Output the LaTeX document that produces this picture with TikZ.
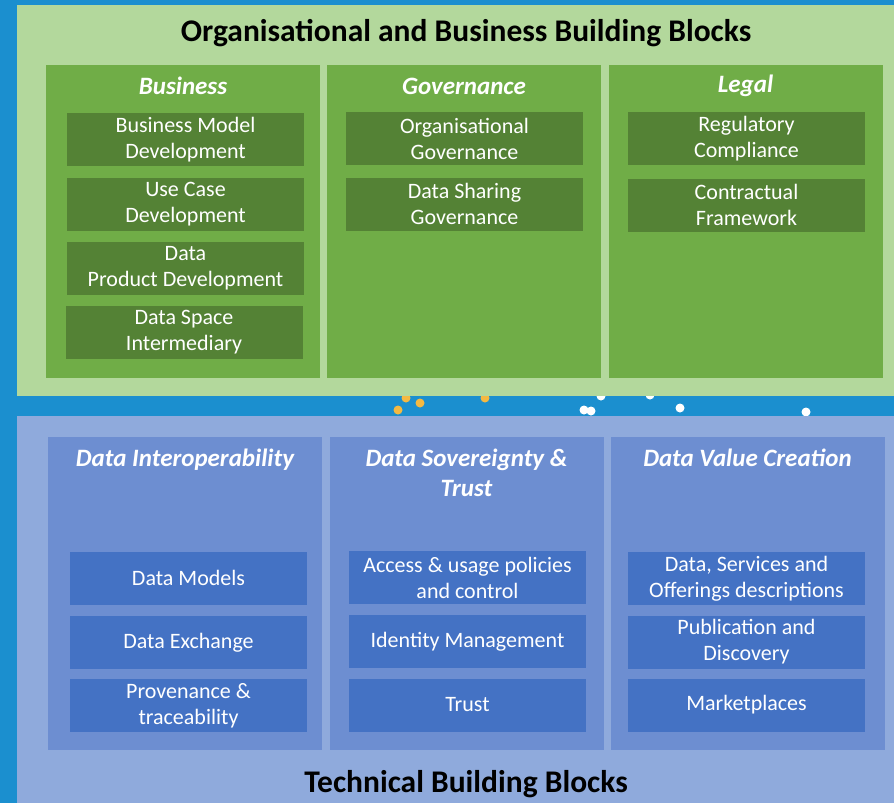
\documentclass[tikz,border=0pt]{standalone}
\usepackage{fontspec}
\setmainfont{Carlito}
\definecolor{bgblue}{HTML}{1B8FCF}
\definecolor{orgpanel}{HTML}{B3D89C}
\definecolor{orgcol}{HTML}{70AD47}
\definecolor{orgitem}{HTML}{548235}
\definecolor{techpanel}{HTML}{8FAADC}
\definecolor{techcol}{HTML}{6D8ED1}
\definecolor{techitem}{HTML}{4472C4}
\definecolor{dotorange}{HTML}{F4B942}

\begin{document}
\begin{tikzpicture}[x=1pt,y=-1pt,
	column node/.style={rectangle,fill=#1,minimum width=274pt,minimum height=313pt,inner sep=0pt},
	item node/.style={rectangle,fill=#1,minimum width=237pt,minimum height=53pt,inner sep=0pt,
		text=white,align=center,font=\fontsize{22}{26}\selectfont},
	head node/.style={text=white,align=center,font=\fontsize{25}{30}\selectfont\bfseries\itshape},
	title node/.style={text=black,font=\fontsize{31.5}{36}\selectfont\bfseries}
]

	\fill[bgblue] (0,0) rectangle (894,803);
	\useasboundingbox (0,0) rectangle (894,803);

	% dots peeking out between the two panels
	\foreach \p in {(398,410),(406,398),(420,403),(485,398)}
		\fill[dotorange] \p circle (4.5);
	\foreach \p in {(584,410),(591,411),(601,396),(650,395),(680,408),(806,412)}
		\fill[white] \p circle (4.5);

	\fill[orgpanel] (17,5) rectangle (894,396);
	\fill[techpanel] (17,416) rectangle (894,803);

	\node[title node] (orgtitle) at (466,33) {Organisational and Business Building Blocks};
	\node[title node] (techtitle) at (466,784) {Technical Building Blocks};

	% organisational and business columns
	\foreach \name/\x/\txt in {business/183/Business,governance/464/Governance,legal/745.5/Legal} {
		\node[column node=orgcol] (\name) at (\x,221.5) {};
		\node[head node] (\name-head) at (\x,86) {\txt};
	}
	\foreach \name/\x/\y/\txt in {
		bmd/185.5/139.5/{Business Model\\Development},
		ucd/185.5/204/{Use Case\\Development},
		dpd/185.5/268.5/{Data\\Product Development},
		dsi/184/332.5/{Data Space\\Intermediary},
		orggov/464.5/138.5/{Organisational\\Governance},
		dsgov/464.5/204/{Data Sharing\\Governance},
		regcomp/746.5/138.5/{Regulatory\\Compliance},
		contract/746.5/205/{Contractual\\Framework}}
		\node[item node=orgitem] (\name) at (\x,\y) {\txt};

	% technical columns
	\foreach \name/\x/\txt in {interop/185/{Data Interoperability},sovereignty/466.5/{Data Sovereignty \&\\Trust},value/747.5/{Data Value Creation}} {
		\node[column node=techcol] (\name) at (\x,593.5) {};
		\node[head node,anchor=north] (\name-head) at (\x,445) {\txt};
	}
	\foreach \name/\x/\y/\txt in {
		models/188.5/578/{Data Models},
		exchange/188.5/642.5/{Data Exchange},
		provenance/188.5/705.5/{Provenance \&\\traceability},
		policies/467.5/577.5/{Access \& usage policies\\and control},
		identity/467.5/641.5/{Identity Management},
		trust/467.5/705/{Trust},
		offerings/746.5/578.5/{Data, Services and\\Offerings descriptions},
		publication/746.5/642/{Publication and\\Discovery},
		market/746.5/705/{Marketplaces}}
		\node[item node=techitem] (\name) at (\x,\y) {\txt};
\end{tikzpicture}
\end{document}
